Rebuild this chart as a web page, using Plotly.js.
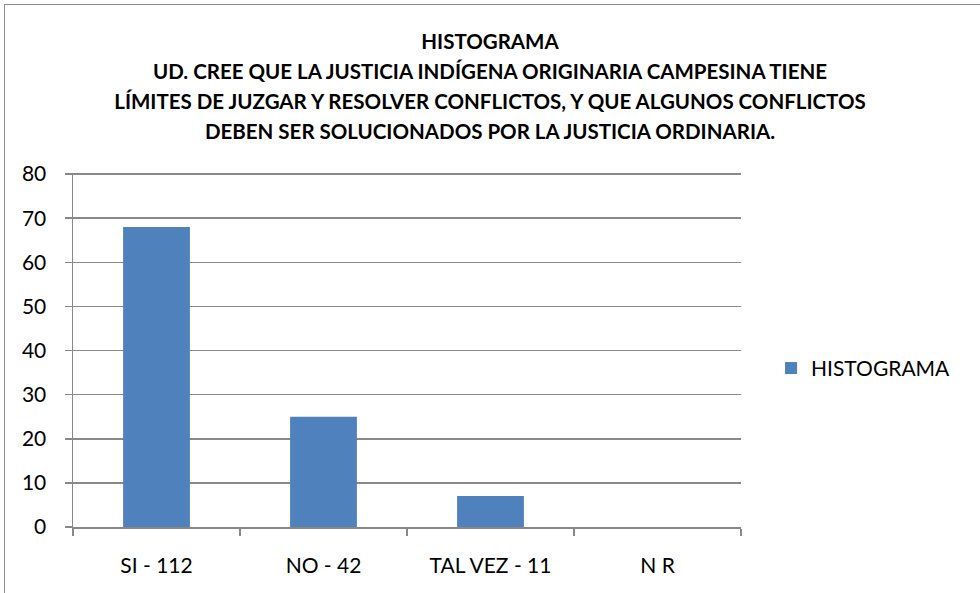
<!DOCTYPE html>
<html>
<head>
<meta charset="utf-8">
<script src="https://cdn.plot.ly/plotly-3.0.1.min.js"></script>
<style>
  html, body { margin: 0; padding: 0; background: #fff; overflow: hidden; }
  #frame { position: absolute; left: 4px; top: 4px; width: 1000px; height: 620px; border: 1.5px solid #8c8c8c; box-sizing: border-box; }
  #chart { position: absolute; left: 0; top: 0; width: 980px; height: 593px; }
</style>
</head>
<body>
<div id="frame"></div>
<div id="chart"></div>
<script>
const categories = ["SI - 112", "NO - 42", "TAL VEZ - 11", "N R"];
const values = [68, 25, 7, 0];
const seriesName = "HISTOGRAMA";
const titleLines = [
  "HISTOGRAMA",
  "UD. CREE QUE LA JUSTICIA INDÍGENA ORIGINARIA CAMPESINA TIENE",
  "LÍMITES DE JUZGAR Y RESOLVER CONFLICTOS, Y QUE ALGUNOS CONFLICTOS",
  "DEBEN SER SOLUCIONADOS POR LA JUSTICIA ORDINARIA."
];
const yTicks = [0, 10, 20, 30, 40, 50, 60, 70, 80];

const trace = {
  type: "bar",
  x: categories,
  y: values,
  name: seriesName,
  marker: { color: "#4F81BD", line: { width: 0 } },
  showlegend: true,
  hoverinfo: "x+y"
};

const layout = {
  width: 980,
  height: 593,
  paper_bgcolor: "rgba(0,0,0,0)",
  plot_bgcolor: "#fff",
  margin: { l: 73, r: 239, t: 173, b: 66 },
  font: { family: "Lato, 'Open Sans', sans-serif", color: "#000", size: 21 },
  title: {
    text: titleLines.map(s => '<span style="font-size:20.5px">' + s + '</span>').join("<br>"),
    font: { family: "Lato, 'Open Sans', sans-serif", size: 23, color: "#000", weight: "bold" },
    x: 0.5, xref: "container", xanchor: "center",
    y: 1 - 49 / 593, yref: "container", yanchor: "top"
  },
  bargap: 0.6,
  xaxis: {
    type: "category",
    range: [-0.5, 3.5],
    showline: true, linecolor: "#888", linewidth: 1.5,
    ticks: "outside", tickson: "boundaries", ticklen: 7, tickcolor: "#888", tickwidth: 1.5,
    showgrid: false,
    tickfont: { size: 21 },
    ticklabelstandoff: 19,
    automargin: false
  },
  yaxis: {
    range: [0, 80.25],
    tickvals: yTicks,
    showline: true, linecolor: "#888", linewidth: 1.5,
    ticks: "outside", ticklen: 7, tickcolor: "#888", tickwidth: 1.5,
    showgrid: true, gridcolor: "#8a8a8a", gridwidth: 1.5,
    zeroline: false,
    tickfont: { size: 21 },
    ticklabelstandoff: 14,
    automargin: false
  },
  legend: {
    x: 1.045, xanchor: "left", y: 0.448, yanchor: "middle",
    font: { size: 21 },
    bgcolor: "rgba(0,0,0,0)"
  },
  showlegend: true
};

Plotly.newPlot("chart", [trace], layout, { displayModeBar: false, staticPlot: true });
</script>
</body>
</html>
